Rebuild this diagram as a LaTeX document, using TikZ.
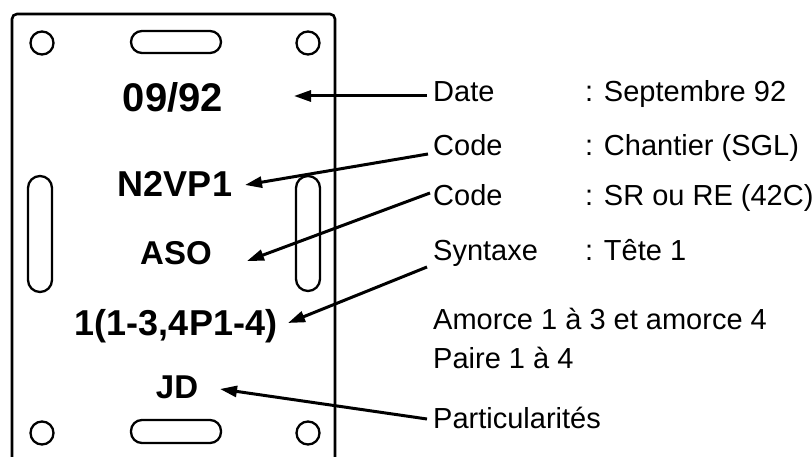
\documentclass[tikz,border=0pt]{standalone}
\usepackage{fontspec}
\setmainfont{Liberation Sans}
\usetikzlibrary{arrows.meta}
\tikzset{
  plate/.style={line width=2.6pt, line join=round},
  hole/.style={line width=2.3pt},
  platetxt/.style={font=\fontsize{36}{40}\selectfont\bfseries, inner sep=0pt, anchor=base},
  bigtxt/.style={font=\fontsize{40}{44}\selectfont\bfseries, inner sep=0pt, anchor=base},
  smalltxt/.style={font=\fontsize{33}{38}\selectfont\bfseries, inner sep=0pt, anchor=base},
  lbl/.style={font=\fontsize{29}{34}\selectfont, inner sep=0pt, anchor=base west},
  arr/.style={line width=3pt, -{Triangle[length=17pt,width=11pt]}},
}
\begin{document}
\begin{tikzpicture}[x=1pt,y=-1pt]
\useasboundingbox (0,0) rectangle (812,457);
\fill[white] (0,0) rectangle (812,457);
% plate outline
\draw[plate, rounded corners=5pt] (12,460) -- (12,14) -- (335,14) -- (335,460);
% holes
\draw[hole] (42,43) circle (11.5);
\draw[hole] (308,43) circle (11.5);
\draw[hole] (42,433) circle (11.5);
\draw[hole] (308,433) circle (11.5);
\draw[hole, rounded corners=11pt] (131,31) rectangle (221,53);
\draw[hole, rounded corners=11pt] (131,420) rectangle (221,443);
\draw[hole, rounded corners=12pt] (28,176) rectangle (52,292);
\draw[hole, rounded corners=12pt] (296,176) rectangle (320,291);
% plate texts
\node[bigtxt] (tdate) at (173,112) {09/92};
\node[platetxt] (tchant) at (175,197) {N2VP1};
\node[smalltxt] (tsr) at (176,265) {ASO};
\node[platetxt] (tsyn) at (176,335) {1(1-3,4P1-4)};
\node[smalltxt] (tpart) at (177,398) {JD};
% labels
\node[lbl] (ldate) at (433,102) {Date};
\node[lbl] (lcode1) at (433,156) {Code};
\node[lbl] (lcode2) at (433,206) {Code};
\node[lbl] (lsyn) at (433,261) {Syntaxe};
\node[lbl] (lamorce) at (433,330) {Amorce 1 à 3 et amorce 4};
\node[lbl] (lpaire) at (433,369) {Paire 1 à 4};
\node[lbl] (lpart) at (433,428) {Particularités};
\node[lbl] (vdate) at (585,102) {: Septembre 92};
\node[lbl] (vcode1) at (585,156) {: Chantier (SGL)};
\node[lbl] (vcode2) at (585,206) {: SR ou RE (42C)};
\node[lbl] (vsyn) at (585,261) {: Tête 1};
% connectors
\draw[arr] ([xshift=-6pt,yshift=6pt]ldate.base west) -- ([xshift=121pt,yshift=16pt]tdate.base);
\draw[arr] ([xshift=-5pt,yshift=2pt]lcode1.base west) -- ([xshift=70pt,yshift=12pt]tchant.base);
\draw[arr] ([xshift=-3pt,yshift=13pt]lcode2.base west) -- ([xshift=71pt,yshift=4pt]tsr.base);
\draw[arr] ([xshift=-6pt,yshift=-6pt]lsyn.base west) -- ([xshift=112pt,yshift=12pt]tsyn.base);
\draw[arr] ([xshift=-6pt,yshift=9pt]lpart.base west) -- ([xshift=43pt,yshift=9pt]tpart.base);
\end{tikzpicture}
\end{document}
